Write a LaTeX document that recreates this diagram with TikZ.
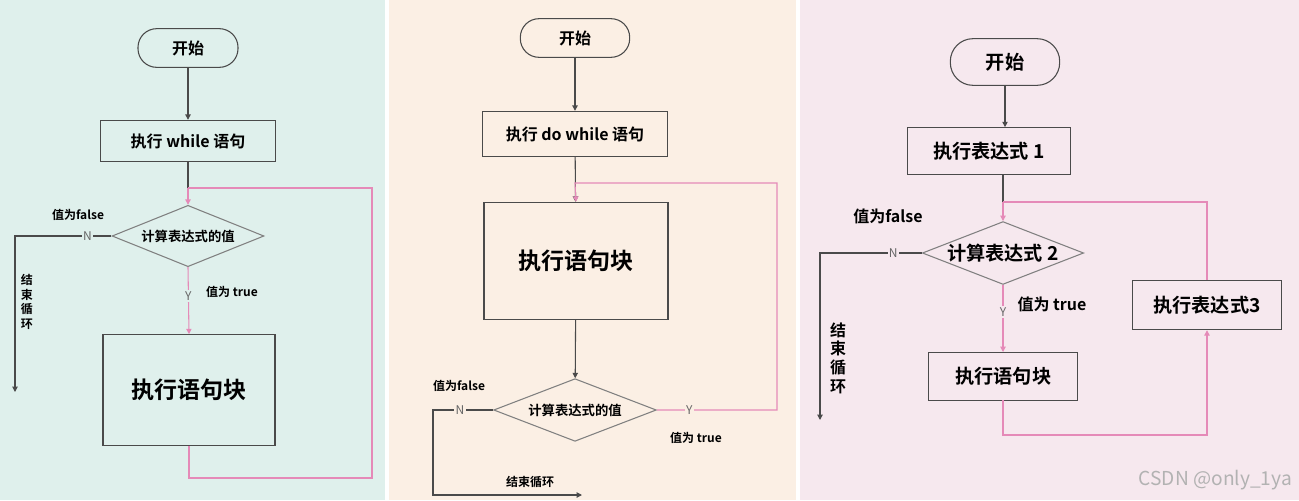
\documentclass[tikz,border=0pt]{standalone}
\usepackage{fontspec}
\setmainfont{Noto Sans CJK SC}[BoldFont=* Bold]
\usetikzlibrary{shapes.geometric,arrows.meta}
\definecolor{bgA}{HTML}{DFF0EC}
\definecolor{bgB}{HTML}{FBEFE4}
\definecolor{bgC}{HTML}{F6E8EE}
\definecolor{pk}{HTML}{E58AB8}
\definecolor{ln}{HTML}{4A4A4A}
\begin{document}
\begin{tikzpicture}[x=0.75pt,y=-0.75pt,line width=0.8pt,
  every node/.style={font=\bfseries},
  startbox/.style={draw=ln,rounded corners=14pt,minimum width=75pt,minimum height=29pt,inner sep=0pt,font=\bfseries\large},
  procbox/.style={draw=ln,thick,inner sep=0pt,font=\bfseries\large},
  bigbox/.style={draw=ln,thick,inner sep=0pt,font=\bfseries\LARGE},
  dec/.style={draw=gray,diamond,aspect=2.5,inner sep=0pt,font=\bfseries},
  flow/.style={ln,-{Triangle[length=4pt,width=4pt]}},
  loop/.style={pk,-{Triangle[length=4pt,width=4pt]}},
  yn/.style={font=\small\mdseries,text=gray!80!black,fill=#1,inner sep=1pt},
  lbl/.style={font=\bfseries\small}]
\useasboundingbox (0,0) rectangle (1299,500);
\fill[white] (0,0) rectangle (1299,500);
\fill[bgA] (0,0) rectangle (385,500);
\fill[bgB] (389,0) rectangle (796,500);
\fill[bgC] (800,0) rectangle (1299,500);

% ---- Panel 1
\node[startbox,minimum width=75pt] (s1) at (188,48) {开始};
\node[procbox,minimum width=131pt,minimum height=31pt] (w1) at (188,141) {执行 while 语句};
\node[dec,minimum width=114pt,minimum height=46pt] (d1) at (188,236) {计算表达式的值};
\node[bigbox,minimum width=129pt,minimum height=83pt] (b1) at (189,390) {执行语句块};
\coordinate (j1) at (188,188);
\coordinate (e1) at (15,392);
\draw[flow] (s1) -- (w1);
\draw[ln] (w1) -- (j1);
\draw[loop] (j1) -- (d1.north);
\draw[pk] (b1.south) -- (189,478) -- (372,478) -- (372,188) -- (j1);
\draw[loop] (d1.south) -- node[yn=bgA,pos=0.43] (y1) {Y} (b1.north);
\draw[flow] (d1.west) -- node[yn=bgA,pos=0.25] (n1) {N} (15,236) -- (e1);
\node[lbl] (f1) at (78,215) {值为false};
\node[lbl] (t1) at (232,292) {值为 true};
\node[lbl,align=center,text width=12pt] (x1) at (27,302) {结\\束\\循\\环};

% ---- Panel 2
\node[startbox,minimum width=82pt] (s2) at (575,38) {开始};
\node[procbox,minimum width=139pt,minimum height=34pt] (w2) at (575,134) {执行 do while 语句};
\node[bigbox,minimum width=138pt,minimum height=88pt] (b2) at (576,261) {执行语句块};
\node[dec,minimum width=122pt,minimum height=47pt] (d2) at (575,410) {计算表达式的值};
\coordinate (j2) at (575,183);
\coordinate (k2) at (433,495);
\coordinate (e2) at (582,495);
\draw[flow] (s2) -- (w2);
\draw[flow] (w2) -- (b2);
\draw[flow] (b2) -- (d2);
\draw[loop] (d2.east) -- node[yn=bgB,pos=0.27] (y2) {Y} (777,410) -- (777,183) -- (j2) -- (b2.north);
\draw[flow] (d2.west) -- node[yn=bgB,pos=0.55] (n2) {N} (433,410) -- (k2) -- (e2);
\node[lbl] (f2) at (459,386) {值为false};
\node[lbl] (t2) at (696,438) {值为 true};
\node[lbl] (x2) at (530,482) {结束循环};

% ---- Panel 3
\node[startbox,minimum width=82pt,minimum height=35pt,rounded corners=17pt,font=\bfseries\Large] (s3) at (1005,62) {开始};
\node[procbox,minimum width=122pt,minimum height=35pt,font=\bfseries\Large] (w3) at (989,151) {执行表达式 1};
\node[dec,minimum width=121pt,minimum height=47pt,font=\bfseries\Large] (d3) at (1003,253) {计算表达式 2};
\node[procbox,minimum width=112pt,minimum height=36pt,anchor=north west,font=\bfseries\Large] (b3) at (928,352) {执行语句块\hspace{16pt}};
\node[procbox,minimum width=112pt,minimum height=37pt,font=\bfseries\Large] (c3) at (1207,305) {执行表达式3};
\coordinate (j3) at (1003,202);
\coordinate (e3) at (820,420);
\draw[flow] (s3) -- (w3.north -| s3);
\draw[ln] (w3.south -| j3) -- (j3);
\draw[loop] (j3) -- (d3.north);
\draw[pk] (j3) -- (1207,202) -- (c3.north);
\draw[loop] (1003,400) -- (1003,435) -- (1207,435) -- (c3.south);
\draw[loop] (d3.south) -- node[yn=bgC,pos=0.4] (y3) {Y} (1003,352);
\draw[flow] (d3.west) -- node[yn=bgC,pos=0.28] (n3) {N} (820,253) -- (e3);
\node[lbl,font=\bfseries\large] (f3) at (888,216) {值为false};
\node[lbl,font=\bfseries\large] (t3) at (1052,304) {值为 true};
\node[lbl,font=\bfseries\large,align=center,text width=16pt] (x3) at (838,358) {结\\束\\循\\环};
\node[text=gray!60,font=\Large\mdseries,anchor=east] (wm) at (1297,480) {CSDN @only\_1ya};
\end{tikzpicture}
\end{document}
